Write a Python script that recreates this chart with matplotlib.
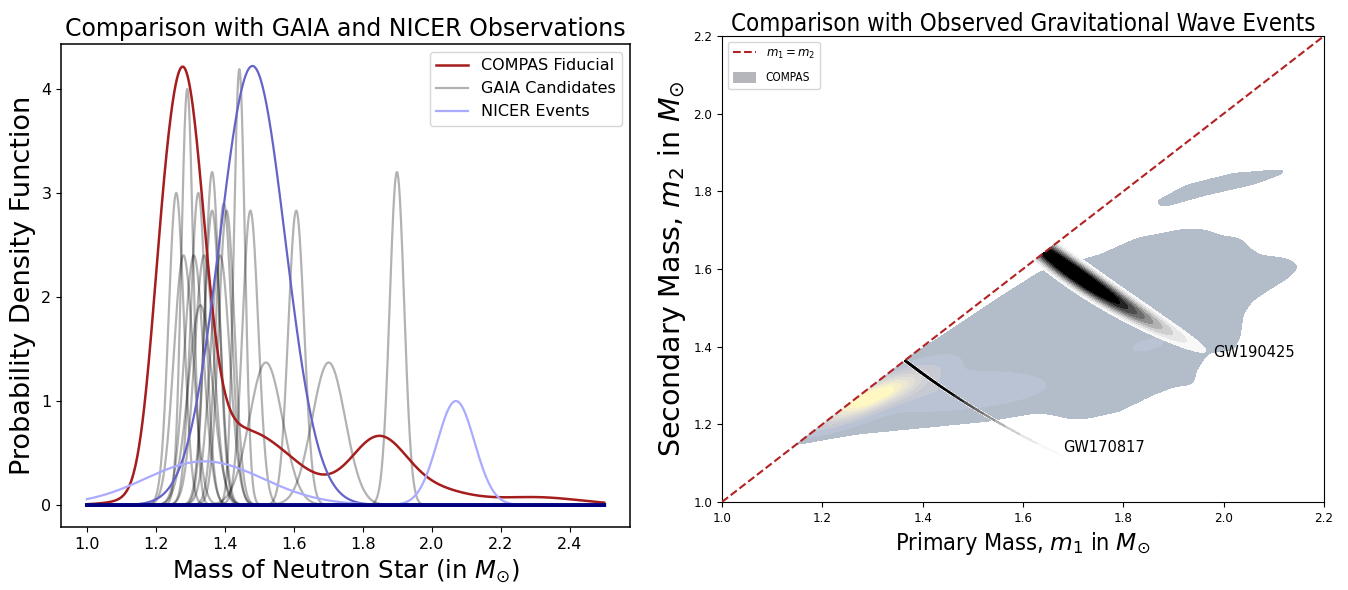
import numpy as np
import matplotlib
matplotlib.use("Agg")
import matplotlib.pyplot as plt
from matplotlib.path import Path
from matplotlib.patches import Patch
from matplotlib.lines import Line2D

# ─────────────────────────────────────────────
#  DATA
# ─────────────────────────────────────────────
MASS_RANGE = (1.0, 2.5)

# COMPAS fiducial KDE, as a sum of gaussian bumps: centre, width, height
COMPAS_MEAN = [1.215, 1.285, 1.45, 1.845, 2.00, 2.30]
COMPAS_SIGMA = [0.04, 0.055, 0.15, 0.08, 0.10, 0.13]
COMPAS_PEAK = [1.00, 3.58, 0.72, 0.60, 0.14, 0.075]

# GAIA candidates
GAIA_MEAN = [1.259, 1.291, 1.323, 1.363, 1.363, 1.397, 1.405, 1.442, 1.474,
             1.607, 1.899, 1.280, 1.310, 1.340, 1.386, 1.329, 1.519, 1.701]
GAIA_PEAK = [3.00, 4.00, 3.00, 3.20, 2.83, 2.90, 2.83, 4.19, 2.83,
             2.83, 3.20, 2.40, 2.40, 2.40, 2.40, 1.92, 1.37, 1.37]
GAIA_SIGMA = [0.022, 0.017, 0.022, 0.021, 0.023, 0.023, 0.023, 0.016, 0.023,
              0.023, 0.021, 0.028, 0.028, 0.028, 0.028, 0.035, 0.048, 0.048]

# NICER events
NICER_MEAN = [1.48, 1.34, 2.07]
NICER_SIGMA = [0.095, 0.17, 0.054]
NICER_PEAK = [4.22, 0.42, 1.00]

# COMPAS population in the (m1, m2) plane: outline of the main region and island
OUTLINE_M1 = [1.10, 1.155, 1.262, 1.395, 1.528, 1.627, 1.660, 1.690, 1.727, 1.793,
              1.860, 1.900, 1.939, 1.946, 1.970, 2.019, 2.033, 2.039, 2.059, 2.099,
              2.132, 2.150, 2.126, 2.072, 2.052, 2.033, 1.993, 1.966, 1.926, 1.827,
              1.753, 1.690, 1.634, 1.550, 1.461, 1.365, 1.340, 1.100]
OUTLINE_M2 = [1.144, 1.152, 1.174, 1.191, 1.208, 1.230, 1.225, 1.215, 1.215, 1.234,
              1.277, 1.297, 1.303, 1.340, 1.385, 1.391, 1.426, 1.486, 1.520, 1.554,
              1.580, 1.608, 1.627, 1.636, 1.653, 1.679, 1.686, 1.700, 1.704, 1.679,
              1.636, 1.614, 1.593, 1.524, 1.447, 1.366, 1.400, 1.200]
ISLAND_M1 = [1.860, 1.926, 2.019, 2.150, 2.059, 1.966, 1.880]
ISLAND_M2 = [1.770, 1.816, 1.846, 1.860, 1.818, 1.791, 1.760]

# denser spots inside the COMPAS region
HOT_M1 = [1.295, 1.450, 1.850]
HOT_M2 = [1.268, 1.285, 1.405]
HOT_WEIGHT = [1.00, 0.15, 0.07]
HOT_SIG_ALONG = [0.08, 0.12, 0.03]
HOT_SIG_ACROSS = [0.02, 0.03, 0.012]
HOT_ANGLE = [30, 5, 20]

# observed GW events: chirp mass and mass ratio posterior
GW_NAMES = ["GW170817", "GW190425"]
GW_MCHIRP = [1.188, 1.432]
GW_MC_SIGMA = [0.0008, 0.008]
GW_Q_PEAK = [1.00, 0.93]
GW_Q_SIGMA = [0.12, 0.08]

DIAG = [1.0, 2.2]

# ─────────────────────────────────────────────
#  STYLE
# ─────────────────────────────────────────────
plt.rcParams["font.family"] = ["DejaVu Sans"]
RED = "#a51d1d"
COND = "condensed"


def gauss(x, mu, sig, peak):
    return peak * np.exp(-0.5 * ((x - mu) / sig) ** 2)


def blur(img, sig_px):
    r = int(3 * sig_px)
    k = np.exp(-0.5 * (np.arange(-r, r + 1) / sig_px) ** 2)
    k /= k.sum()
    img = np.apply_along_axis(lambda v: np.convolve(v, k, mode="same"), 0, img)
    img = np.apply_along_axis(lambda v: np.convolve(v, k, mode="same"), 1, img)
    return img


def chirp(m1, m2):
    return (m1 * m2) ** 0.6 / (m1 + m2) ** 0.2


fig = plt.figure(figsize=(13.48, 5.9), dpi=100)
ax1 = fig.add_axes([0.0453, 0.1068, 0.4221, 0.8186])
ax2 = fig.add_axes([0.5356, 0.1492, 0.4466, 0.7898])

# ── LEFT: mass distributions ───────────────────
x = np.linspace(MASS_RANGE[0], MASS_RANGE[1], 1500)

compas = sum(gauss(x, m, s, p) for m, s, p in zip(COMPAS_MEAN, COMPAS_SIGMA, COMPAS_PEAK))
ax1.plot(x, compas, color=RED, lw=1.8, label="COMPAS Fiducial", zorder=3)

for i, (m, s, p) in enumerate(zip(GAIA_MEAN, GAIA_SIGMA, GAIA_PEAK)):
    ax1.plot(x, gauss(x, m, s, p), color="k", alpha=0.3, lw=1.6,
             label="GAIA Candidates" if i == 0 else "_nolegend_", zorder=2)

nicer_col = ["#6464c8", "#aaaaff", "#aaaaff"]
for i, (m, s, p) in enumerate(zip(NICER_MEAN, NICER_SIGMA, NICER_PEAK)):
    ax1.plot(x, gauss(x, m, s, p), color=nicer_col[i], lw=1.6,
             label="NICER Events" if i == 1 else "_nolegend_", zorder=3)

ax1.plot(x, np.zeros_like(x), color="navy", lw=2.8, zorder=4)

ax1.set_title("Comparison with GAIA and NICER Observations", fontsize=17)
ax1.set_xlabel(r"Mass of Neutron Star (in $M_{\odot}$)", fontsize=17.5)
ax1.set_ylabel("Probability Density Function", fontsize=19.5)
ax1.tick_params(labelsize=11.5)
ax1.legend(loc="upper right", fontsize=11.5)
for sp in ax1.spines.values():
    sp.set_linewidth(1.1)

# ── RIGHT: m1 - m2 plane ───────────────────────
g = np.linspace(DIAG[0], DIAG[1], 601)
M1, M2 = np.meshgrid(g, g)
pts = np.column_stack([M1.ravel(), M2.ravel()])
inside = Path(list(zip(OUTLINE_M1, OUTLINE_M2))).contains_points(pts)
inside |= Path(list(zip(ISLAND_M1, ISLAND_M2))).contains_points(pts)
body = blur(inside.reshape(M1.shape).astype(float), 4.0) * 0.18

hot = np.zeros_like(M1)
for cx, cy, w, sa, sb, ang in zip(HOT_M1, HOT_M2, HOT_WEIGHT, HOT_SIG_ALONG,
                                  HOT_SIG_ACROSS, HOT_ANGLE):
    c, s = np.cos(np.radians(ang)), np.sin(np.radians(ang))
    a = (M1 - cx) * c + (M2 - cy) * s
    b = -(M1 - cx) * s + (M2 - cy) * c
    hot += w * np.exp(-0.5 * ((a / sa) ** 2 + (b / sb) ** 2)) * (body > 0.02)

field = np.ma.masked_where(M2 > M1, body + hot)
compas_levels = [0.09, 0.22, 0.34, 0.46, 0.58, 0.70, 0.82, 0.94, 1.06, 1.3]
# cividis at alpha 0.3 over white, pre-blended so the bands show no seams
compas_cols = [0.3 * np.array(plt.cm.cividis(v)) + 0.7
               for v in np.linspace(0, 1, len(compas_levels) - 1)]
compas_cols = [tuple(np.clip(c[:3], 0, 1)) for c in compas_cols]
ax2.contourf(M1, M2, field, levels=compas_levels, colors=compas_cols)

gw_levels = [0.02, 0.05, 0.09, 0.14, 0.20, 0.27, 0.35, 0.45, 0.56, 1.01]
gw_colors = [plt.cm.Greys(v) for v in np.linspace(0.06, 1.0, len(gw_levels) - 1)]
windows = [(1.30, 1.80, 1.04, 1.42, 1201, 921), (1.55, 2.20, 1.20, 1.75, 651, 551)]
for mc0, smc, q0, sq, (x0, x1, y0, y1, nx, ny) in zip(GW_MCHIRP, GW_MC_SIGMA,
                                                        GW_Q_PEAK, GW_Q_SIGMA, windows):
    G1, G2 = np.meshgrid(np.linspace(x0, x1, nx), np.linspace(y0, y1, ny))
    q = G2 / G1
    dens = np.exp(-0.5 * ((chirp(G1, G2) - mc0) / smc) ** 2) * \
        np.exp(-0.5 * ((q - q0) / sq) ** 2)
    dens = np.ma.masked_where(q > 1, dens)
    ax2.contourf(G1, G2, dens, levels=gw_levels, colors=gw_colors)

ax2.plot(DIAG, DIAG, "--", color="firebrick", lw=1.5, zorder=5)

ax2.text(1.979, 1.386, GW_NAMES[1], fontsize=11.7, fontstretch=COND, va="center")
ax2.text(1.679, 1.139, GW_NAMES[0], fontsize=11.7, fontstretch=COND, va="center")

ax2.set_xlim(DIAG)
ax2.set_ylim(DIAG)
ticks = np.round(np.arange(1.0, 2.21, 0.2), 1)
ax2.set_xticks(ticks)
ax2.set_yticks(ticks)
plt.setp(ax2.get_xticklabels() + ax2.get_yticklabels(), fontsize=9.5, fontstretch=COND)

ax2.set_title("Comparison with Observed Gravitational Wave Events",
              fontsize=17.2, fontstretch=COND, pad=2)
ax2.set_xlabel(r"Primary Mass, $m_1$ in $M_{\odot}$", fontsize=16.8, fontstretch=COND)
ax2.set_ylabel(r"Secondary Mass, $m_2$ in $M_{\odot}$", fontsize=20.5)

handles = [Line2D([], [], ls="--", color="firebrick", lw=1.5),
           Patch(facecolor="#b4b6bb")]
ax2.legend(handles, [r"$m_1 = m_2$", "COMPAS"], loc="upper left",
           prop={"size": 8.5, "stretch": COND}, labelspacing=0.9, handleheight=1.0)

fig.savefig("out.png", dpi=100)
